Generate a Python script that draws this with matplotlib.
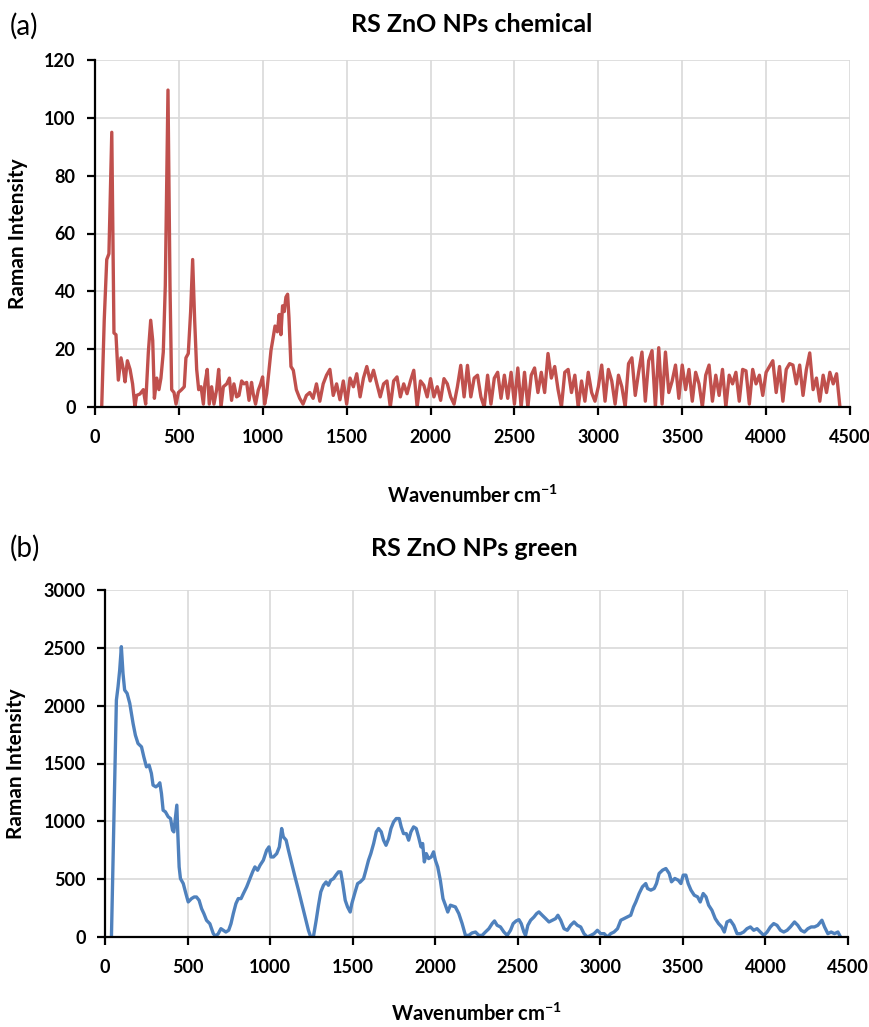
import numpy as np
import matplotlib
matplotlib.use("Agg")
import matplotlib.pyplot as plt

plt.rcParams['font.family'] = ['Lato', 'DejaVu Sans']
plt.rcParams['mathtext.fontset'] = 'custom'
plt.rcParams['mathtext.rm'] = 'Lato:bold'
plt.rcParams['mathtext.it'] = 'Lato:bold'
plt.rcParams['mathtext.bf'] = 'Lato:bold'

# ---------------- Panel (a): chemical ----------------
chem_peak_x = [40, 55, 70, 83, 100, 113, 125, 139, 155, 169, 179, 193, 209, 224, 238,
               248, 268, 288, 302, 318, 332, 344, 354, 368, 381, 393, 407, 419, 435, 447,
               457, 471, 483, 497, 516, 532, 542, 556, 570, 582, 594, 606, 618, 632, 646,
               655, 669, 681, 695, 709, 725, 737, 751, 765, 785, 801, 814, 828, 844, 858,
               874, 888, 904, 918, 933, 943, 957, 973, 987, 999, 1011, 1023, 1037, 1049, 1059,
               1073, 1087, 1098, 1108, 1118, 1128, 1138, 1148, 1156, 1168, 1182]
chem_peak_y = [0, 30, 51, 53, 95, 25.6, 25, 9.3, 17, 13, 8.7, 16, 13, 8, 0,
               4, 4.5, 6, 1, 19, 30, 23, 3, 10, 6, 10, 19, 42, 109.6, 42,
               6, 5, 1, 5, 6, 7, 17, 18.5, 33, 51, 30, 13, 6, 7, 1,
               8, 13, 1, 7, 1, 6, 13, 0, 7, 8, 10, 2.3, 8, 3.5, 4,
               9, 8, 8.5, 2.3, 8.5, 4.6, 1, 5.8, 8, 10.4, 1, 4.6, 12.7, 19.6, 23,
               28, 26, 32, 25, 35, 33, 38, 39, 31, 14, 12.7]

# noisy region, sampled every 20 cm-1 starting at 1200 cm-1
chem_noise_start = 1200
chem_noise_step = 20
chem_noise_y = [
    6, 3, 1, 4, 5, 3, 8, 2, 8, 11,            # 1200-1380
    13, 4, 8, 2.5, 9, 1, 10, 7, 11.5, 3.5,    # 1400-1580
    10, 14, 9, 12.7, 8, 3.5, 8, 9, 0, 9,      # 1600-1780
    10.4, 3.5, 8, 4.6, 9, 12.7, 0, 9, 7.5, 3.5,  # 1800-1980
    9.8, 3.5, 7, 2.3, 9.8, 8, 3.5, 1, 7, 14.4,   # 2000-2180
    3.5, 14.4, 3.5, 10, 11, 3.5, 0, 11, 1, 10,   # 2200-2380
    12, 3, 11, 3, 12, 1, 13.5, 0, 12, 0,         # 2400-2580
    11, 13.5, 5, 12, 5, 18.5, 10, 14, 6, 0,      # 2600-2780
    12, 13, 5, 11, 0, 9, 2, 12, 5, 2,            # 2800-2980
    7, 14.5, 2, 13, 9, 1, 11, 7, 0, 15,          # 3000-3180
    17, 4, 12, 19, 2, 16, 19.5, 0, 20.5, 1,      # 3200-3380
    19, 5, 9, 14.5, 3, 14.5, 6, 13, 2, 12,       # 3400-3580
    8, 0, 11, 14.5, 2, 11, 4, 13, 0, 11,         # 3600-3780
    8, 12, 2, 13, 12.5, 1, 13, 8, 11, 4,         # 3800-3980
    12, 14, 16, 5, 14, 2, 13, 15, 14.5, 8,       # 4000-4180
    14.5, 4, 13, 18.7, 6, 10, 2, 11, 5, 12,      # 4200-4380
    8, 11.5, 0,                                  # 4400-4440
]

# ---------------- Panel (b): green ----------------
green_x = [39, 59, 69, 79, 89, 99, 109, 119, 134, 150, 160, 170, 184, 200, 221,
           235, 251, 267, 281, 291, 308, 322, 332, 342, 352, 366, 383, 397, 409, 417,
           425, 435, 441, 449, 457, 474, 490, 504, 524, 540, 554, 570, 585, 599, 615,
           635, 656, 670, 686, 702, 716, 732, 749, 763, 777, 793, 807, 824, 838, 858,
           878, 894, 908, 924, 939, 959, 979, 993, 1005, 1020, 1040, 1056, 1070, 1080, 1097,
           1111, 1131, 1151, 1172, 1192, 1212, 1232, 1246, 1262, 1279, 1293, 1307, 1323, 1339, 1353,
           1367, 1384, 1398, 1414, 1428, 1440, 1455, 1469, 1485, 1495, 1515, 1530, 1546, 1566, 1580,
           1596, 1610, 1627, 1643, 1657, 1673, 1687, 1702, 1718, 1732, 1748, 1764, 1782, 1794, 1808,
           1825, 1839, 1853, 1869, 1885, 1899, 1914, 1924, 1934, 1946, 1960, 1976, 1990, 2001, 2015,
           2031, 2047, 2062, 2076,
           2092, 2122, 2143, 2163, 2183, 2203, 2223, 2244, 2264, 2284, 2304, 2325, 2345, 2359, 2375,
           2395, 2416, 2436, 2456, 2472, 2490, 2507, 2521, 2537, 2547, 2561, 2578, 2598, 2614, 2628,
           2648, 2669, 2689, 2709, 2729, 2743, 2760, 2780, 2800, 2820, 2841, 2861, 2881, 2901, 2921,
           2942, 2962, 2982, 3002, 3023, 3043, 3063, 3083, 3104, 3124, 3144, 3164, 3184, 3201, 3215,
           3235, 3255, 3275, 3286, 3306, 3326, 3340, 3356, 3377, 3397, 3417, 3431, 3451, 3472, 3488,
           3502, 3518, 3532, 3549, 3569, 3589, 3605, 3623, 3640, 3656, 3676, 3696, 3716, 3735, 3751,
           3767, 3787, 3808, 3828, 3848, 3868, 3888, 3909, 3929, 3949, 3969, 3990, 4010, 4030, 4050,
           4070, 4091, 4111, 4131, 4151, 4176, 4196, 4216, 4236, 4257, 4277, 4297, 4317, 4342, 4358,
           4378, 4398, 4418, 4439, 4455]
green_y = [0, 1356, 2048, 2164, 2308, 2510, 2279, 2135, 2106, 2020, 1933, 1846, 1745, 1673, 1644,
           1558, 1471, 1486, 1414, 1313, 1298, 1313, 1333, 1240, 1096, 1082, 1039, 1024, 923, 909,
           1010, 1140, 895, 606, 505, 462, 375, 303, 332, 346, 346, 317, 245, 202, 144,
           115, 29, 6, 29, 72, 58, 43, 58, 115, 202, 289, 332, 332, 375, 433,
           505, 563, 606, 577, 620, 664, 750, 779, 692, 692, 721, 779, 938, 866, 837,
           750, 635, 519, 404, 289, 173, 58, 0, 0, 144, 274, 390, 447, 476, 447,
           490, 505, 534, 563, 563, 462, 317, 260, 216, 289, 390, 462, 476, 505, 577,
           664, 721, 808, 909, 938, 909, 837, 793, 851, 938, 995, 1024, 1024, 952, 894,
           894, 837, 909, 952, 938, 866, 779, 808, 649, 721, 678, 692, 736, 664, 606,
           490, 332, 274, 216,
           275, 260, 202, 116, 14, 14, 35, 43, 14, 14, 43, 72, 116, 139, 101,
           87, 43, 14, 58, 116, 139, 150, 116, 43, 14, 101, 145, 173, 202, 217,
           188, 159, 130, 145, 159, 188, 145, 72, 58, 101, 130, 101, 87, 29, 0,
           14, 29, 58, 29, 29, 0, 29, 43, 72, 145, 159, 173, 188, 260, 303,
           376, 434, 462, 419, 405, 419, 462, 549, 578, 592, 549, 477, 506, 491, 462,
           535, 535, 462, 405, 361, 347, 303, 376, 347, 275, 231, 159, 116, 87, 43,
           130, 145, 101, 29, 29, 43, 72, 87, 58, 72, 43, 14, 43, 87, 116,
           101, 58, 43, 58, 87, 130, 101, 58, 43, 72, 87, 87, 101, 145, 87,
           29, 43, 29, 43, 0]

x_ticks = [0, 500, 1000, 1500, 2000, 2500, 3000, 3500, 4000, 4500]
chem_y_ticks = [0, 20, 40, 60, 80, 100, 120]
green_y_ticks = [0, 500, 1000, 1500, 2000, 2500, 3000]

chem_title = "RS ZnO NPs chemical"
green_title = "RS ZnO NPs green"
x_label = "Wavenumber cm$^{-1}$"
y_label = "Raman Intensity"

# assemble chemical spectrum
chem_noise_x = [chem_noise_start + chem_noise_step * i for i in range(len(chem_noise_y))]
chem_x = chem_peak_x + chem_noise_x
chem_y = chem_peak_y + chem_noise_y

W, H = 870, 1027
fig = plt.figure(figsize=(W / 100, H / 100), dpi=100)

ax1_box = (95, 60, 850, 407)     # left, top, right, bottom in pixels
ax2_box = (105, 590, 848, 937)


def make_axes(box):
    l, t, r, b = box
    return fig.add_axes([l / W, 1 - b / H, (r - l) / W, (b - t) / H])


ax1 = make_axes(ax1_box)
ax2 = make_axes(ax2_box)

red = '#C0504D'
blue = '#4F81BD'
grid_c = '#D9D9D9'


def style(ax, yticks, box, ylab_right, xlab_top):
    l, t, r, b = box
    ax.set_xlim(0, 4500)
    ax.set_ylim(yticks[0], yticks[-1])
    ax.set_xticks(x_ticks)
    ax.set_yticks(yticks)
    ax.grid(True, color=grid_c, linewidth=1.2)
    ax.set_axisbelow(True)
    for s in ['top', 'right']:
        ax.spines[s].set_visible(False)
    for s in ['left', 'bottom']:
        ax.spines[s].set_linewidth(1.6)
        ax.spines[s].set_color('black')
    ax.tick_params(axis='both', direction='out', length=6, width=1.6,
                   labelsize=13)
    ax.tick_params(axis='x', pad=10)
    ax.tick_params(axis='y', pad=8)
    for lab in ax.get_xticklabels() + ax.get_yticklabels():
        lab.set_fontweight('bold')
    ax.set_xlabel(x_label, fontsize=14.5, fontweight='bold')
    ax.set_ylabel(y_label, fontsize=15, fontweight='bold')
    ax.yaxis.set_label_coords((ylab_right - l) / (r - l), 0.5)
    ax.xaxis.set_label_coords(0.5, (b - xlab_top) / (b - t))


ax1.plot(chem_x, chem_y, color=red, linewidth=2.4, solid_joinstyle='round')
style(ax1, chem_y_ticks, ax1_box, 28, 485)
ax2.plot(green_x, green_y, color=blue, linewidth=2.4, solid_joinstyle='round')
style(ax2, green_y_ticks, ax2_box, 26, 1003)

fig.text(472 / W, 1 - 25 / H, chem_title, fontsize=18, fontweight='bold',
         ha='center', va='center')
fig.text(474 / W, 1 - 548 / H, green_title, fontsize=18, fontweight='bold',
         ha='center', va='center')

fig.text(10 / W, 1 - 26 / H, "(a)", fontsize=20, va='center', ha='left')
fig.text(10 / W, 1 - 548 / H, "(b)", fontsize=20, va='center', ha='left')

fig.savefig("out.png", dpi=100)
